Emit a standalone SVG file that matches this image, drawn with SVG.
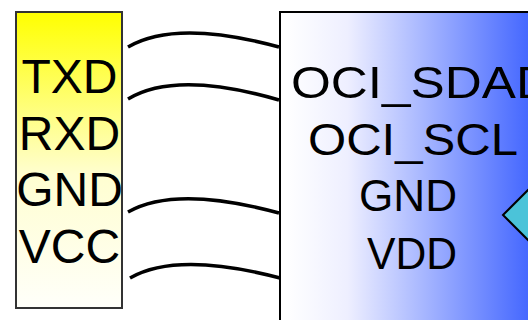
<svg xmlns="http://www.w3.org/2000/svg" width="528" height="320" viewBox="0 0 528 320">
<defs>
<linearGradient id="gy" x1="0" y1="0" x2="0" y2="1">
<stop offset="0" stop-color="#ffff00"/>
<stop offset="0.55" stop-color="#fffed0"/>
<stop offset="1" stop-color="#fffffa"/>
</linearGradient>
<linearGradient id="gb" gradientUnits="userSpaceOnUse" x1="285" y1="0" x2="535" y2="0">
<stop offset="0" stop-color="#ffffff"/>
<stop offset="0.25" stop-color="#eeefff"/>
<stop offset="1" stop-color="#3f63ff"/>
</linearGradient>
<style>
.lt{font-family:"Liberation Sans",Arial,sans-serif;font-size:48px;fill:#000;text-anchor:middle}
.rt{font-family:"Liberation Sans",Arial,sans-serif;font-size:45px;fill:#000}
.wire{fill:none;stroke:#000;stroke-width:3.5}
</style>
</defs>
<g id="connectors">
<path class="wire" d="M128,47 Q176,19 279,47"/>
<path class="wire" d="M128,99 Q176,70 279,100"/>
<path class="wire" d="M128,212 Q176,185 279,213"/>
<path class="wire" d="M130,278 Q177,251 280,278"/>
</g>
<g id="uart">
<rect x="16" y="12" width="106" height="296" fill="url(#gy)" stroke="#333" stroke-width="2"/>
<text class="lt" x="69.5" y="93">TXD</text>
<text class="lt" x="69.5" y="150">RXD</text>
<text class="lt" x="69.5" y="206">GND</text>
<text class="lt" x="69.5" y="263">VCC</text>
</g>
<g id="chip">
<rect x="280" y="12" width="280" height="330" fill="url(#gb)" stroke="#000" stroke-width="2"/>
<text class="rt" x="291" y="98" textLength="262" lengthAdjust="spacingAndGlyphs">OCI_SDAD</text>
<text class="rt" x="308" y="155" textLength="210" lengthAdjust="spacingAndGlyphs">OCI_SCL</text>
<text class="rt" x="359" y="211" textLength="98" lengthAdjust="spacingAndGlyphs">GND</text>
<text class="rt" x="367" y="269" textLength="90" lengthAdjust="spacingAndGlyphs">VDD</text>
</g>
<g id="diamond">
<polygon points="503,215 540,178 577,215 540,252" fill="#4bc3d9" stroke="#000" stroke-width="2"/>
</g>
</svg>
